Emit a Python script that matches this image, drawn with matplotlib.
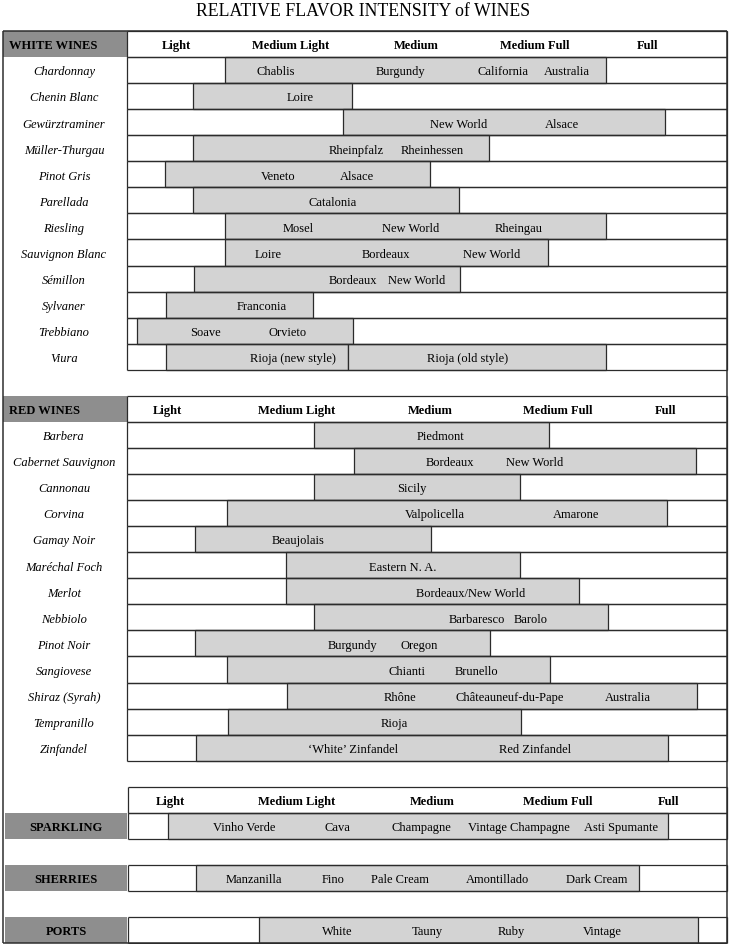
import matplotlib
matplotlib.use("Agg")
import matplotlib.pyplot as plt

# ---------------- data ----------------
# intensity score: 0 = left edge of the scale, 100 = right edge
SCALE = ["Light", "Medium Light", "Medium", "Medium Full", "Full"]
white_scale_pos = [8.2, 27.3, 48.2, 68.0, 86.8]
red_scale_pos = [6.8, 28.2, 50.5, 71.8, 89.8]
other_scale_pos = [7.2, 28.2, 50.8, 71.8, 90.2]

white_wines = ["Chardonnay", "Chenin Blanc", "Gewürztraminer", "Müller-Thurgau",
               "Pinot Gris", "Parellada", "Riesling", "Sauvignon Blanc",
               "Sémillon", "Sylvaner", "Trebbiano", "Viura"]
white_bars = [[(16.3, 79.8)], [(11.0, 37.5)], [(36.0, 89.7)], [(11.0, 60.3)],
              [(6.3, 50.5)], [(11.0, 55.3)], [(16.3, 79.8)], [(16.3, 70.2)],
              [(11.2, 55.5)], [(6.5, 31.0)], [(1.7, 37.7)],
              [(6.5, 36.8), (36.8, 79.8)]]
white_regions = [
    [("Chablis", 24.8), ("Burgundy", 45.5), ("California", 62.7), ("Australia", 73.3)],
    [("Loire", 28.8)],
    [("New World", 55.2), ("Alsace", 72.5)],
    [("Rheinpfalz", 38.2), ("Rheinhessen", 50.8)],
    [("Veneto", 25.2), ("Alsace", 38.3)],
    [("Catalonia", 34.3)],
    [("Mosel", 28.5), ("New World", 47.3), ("Rheingau", 65.3)],
    [("Loire", 23.5), ("Bordeaux", 43.2), ("New World", 60.7)],
    [("Bordeaux", 37.7), ("New World", 48.3)],
    [("Franconia", 22.5)],
    [("Soave", 13.0), ("Orvieto", 26.7)],
    [("Rioja (new style)", 27.7), ("Rioja (old style)", 56.8)],
]

red_wines = ["Barbera", "Cabernet Sauvignon", "Cannonau", "Corvina", "Gamay Noir",
             "Maréchal Foch", "Merlot", "Nebbiolo", "Pinot Noir", "Sangiovese",
             "Shiraz (Syrah)", "Tempranillo", "Zinfandel"]
red_bars = [[(31.2, 70.3)], [(37.8, 94.8)], [(31.2, 65.5)], [(16.7, 90.0)],
            [(11.3, 50.7)], [(26.5, 65.5)], [(26.5, 75.3)], [(31.2, 80.2)],
            [(11.3, 60.5)], [(16.7, 70.5)], [(26.7, 95.0)], [(16.8, 65.7)],
            [(11.5, 90.2)]]
red_regions = [
    [("Piedmont", 52.2)],
    [("Bordeaux", 53.8), ("New World", 68.0)],
    [("Sicily", 47.5)],
    [("Valpolicella", 51.3), ("Amarone", 74.8)],
    [("Beaujolais", 28.5)],
    [("Eastern N. A.", 46.0)],
    [("Bordeaux/New World", 57.2)],
    [("Barbaresco", 58.3), ("Barolo", 67.2)],
    [("Burgundy", 37.5), ("Oregon", 48.7)],
    [("Chianti", 46.7), ("Brunello", 58.3)],
    [("Rhône", 45.5), ("Châteauneuf-du-Pape", 63.7), ("Australia", 83.5)],
    [("Rioja", 44.5)],
    [("‘White’ Zinfandel", 37.7), ("Red Zinfandel", 68.0)],
]

other_groups = ["SPARKLING", "SHERRIES", "PORTS"]
other_bars = [[(6.8, 90.2)], [(11.5, 85.3)], [(22.0, 95.2)]]
other_regions = [
    [("Vinho Verde", 19.5), ("Cava", 35.0), ("Champagne", 49.0),
     ("Vintage Champagne", 65.3), ("Asti Spumante", 82.3)],
    [("Manzanilla", 21.2), ("Fino", 34.3), ("Pale Cream", 45.5),
     ("Amontillado", 61.7), ("Dark Cream", 78.2)],
    [("White", 35.0), ("Tauny", 50.0), ("Ruby", 64.0), ("Vintage", 79.2)],
]

# ---------------- layout ----------------
W, H = 730, 945
PX_PER_UNIT = 6.0
X0_PX = 127
ROW_PX = 26.06
TOP_PX = 32

BAR_C = "#d3d3d3"
DARK_C = "#8e8e8e"
LINE_C = "#2b2b2b"
LW = 0.9
FONT = "Liberation Serif"
FS = 9.0

fig = plt.figure(figsize=(W / 100, H / 100), dpi=100)
ax = fig.add_axes([0, 0, 1, 1])
ax.set_xlim((0 - X0_PX) / PX_PER_UNIT, (W - X0_PX) / PX_PER_UNIT)
ax.set_ylim((H - TOP_PX) / ROW_PX, (0 - TOP_PX) / ROW_PX)
ax.axis("off")

T0, T1 = 0.0, 100.0
FL = (3 - X0_PX) / PX_PER_UNIT      # outer frame left
BL = (5 - X0_PX) / PX_PER_UNIT      # small group boxes left
LABEL_X = (64 - X0_PX) / PX_PER_UNIT
SEC_X = (9 - X0_PX) / PX_PER_UNIT
N_ROWS = 35
TY = 0.55


def table_row(r, bars, regions, left=T0):
    ax.hlines([r, r + 1], left, T1, color=LINE_C, lw=LW, zorder=3)
    ax.vlines([left, T1], r, r + 1, color=LINE_C, lw=LW, zorder=3)
    for (s, e) in bars:
        ax.barh(r + 0.5, e - s, left=s, height=1.0, color=BAR_C,
                edgecolor=LINE_C, linewidth=LW, zorder=2)
    for name, pos in regions:
        ax.text(pos, r + TY, name, ha="center", va="center", fontsize=FS,
                family=FONT, zorder=4)


def header_row(r, positions, left=T0):
    ax.hlines([r, r + 1], left, T1, color=LINE_C, lw=LW, zorder=3)
    ax.vlines([left, T1], r, r + 1, color=LINE_C, lw=LW, zorder=3)
    for name, pos in zip(SCALE, positions):
        ax.text(pos, r + TY, name, ha="center", va="center", fontsize=FS,
                family=FONT, weight="bold", zorder=4)


def dark_box(r, text, left, centered):
    ax.barh(r + 0.5, T0 - left, left=left, height=1.0, color=DARK_C,
            edgecolor="none", zorder=1)
    if centered:
        ax.text((left + T0) / 2, r + TY, text, ha="center", va="center",
                fontsize=FS, family=FONT, weight="bold", zorder=4)
    else:
        ax.text(SEC_X, r + TY, text, ha="left", va="center",
                fontsize=FS, family=FONT, weight="bold", zorder=4)


# title
ax.text((363 - X0_PX) / PX_PER_UNIT, (11 - TOP_PX) / ROW_PX,
        "RELATIVE FLAVOR INTENSITY of WINES", ha="center", va="center",
        fontsize=12.8, family=FONT)

# outer frame
ax.hlines([0, N_ROWS], FL, T1, color=LINE_C, lw=LW * 1.2, zorder=3)
ax.vlines([FL, T1], 0, N_ROWS, color=LINE_C, lw=LW * 1.2, zorder=3)

# white wines
r = 0
dark_box(r, "WHITE WINES", FL, False)
header_row(r, white_scale_pos)
for i, (name, bars, regs) in enumerate(zip(white_wines, white_bars, white_regions)):
    rr = r + 1 + i
    table_row(rr, bars, regs)
    ax.text(LABEL_X, rr + TY, name, ha="center", va="center", fontsize=FS,
            family=FONT, style="italic")

# red wines
r = 1 + len(white_wines) + 1
dark_box(r, "RED WINES", FL, False)
header_row(r, red_scale_pos)
for i, (name, bars, regs) in enumerate(zip(red_wines, red_bars, red_regions)):
    rr = r + 1 + i
    table_row(rr, bars, regs)
    ax.text(LABEL_X, rr + TY, name, ha="center", va="center", fontsize=FS,
            family=FONT, style="italic")

# sparkling / sherries / ports
r = r + 1 + len(red_wines) + 1
OL = (128 - X0_PX) / PX_PER_UNIT
header_row(r, other_scale_pos, left=OL)
rr = r + 1
for k, (name, bars, regs) in enumerate(zip(other_groups, other_bars, other_regions)):
    dark_box(rr, name, BL, True)
    table_row(rr, bars, regs, left=OL)
    rr += 2

fig.savefig("out.png", dpi=100)
